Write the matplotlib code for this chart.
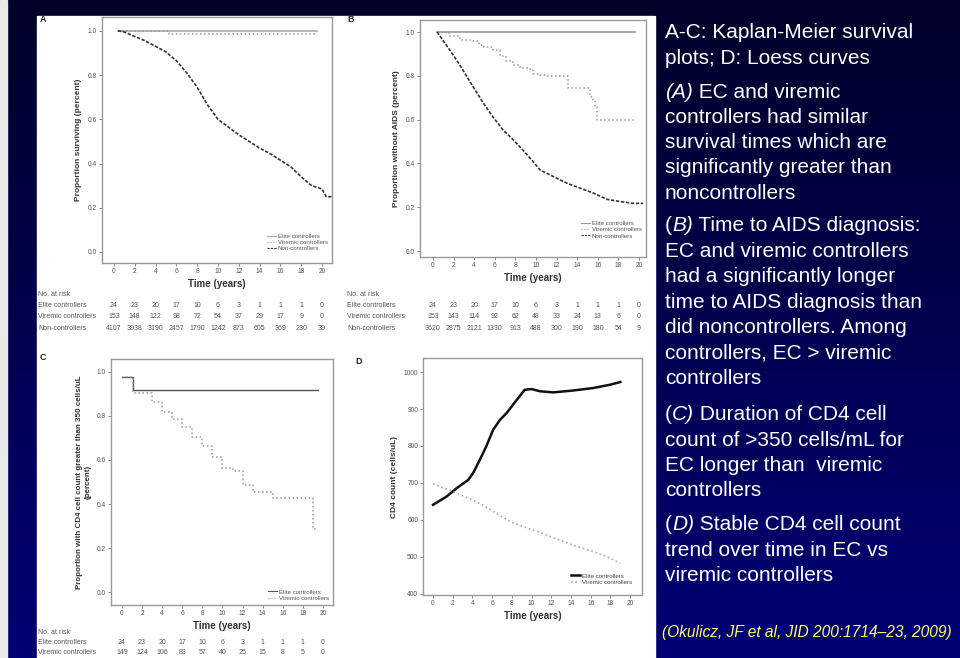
import numpy as np
import matplotlib
matplotlib.use("Agg")
import matplotlib.pyplot as plt
import matplotlib.transforms as mtrans
from matplotlib.lines import Line2D
from matplotlib.patches import Rectangle

plt.rcParams['font.family'] = ['Liberation Sans', 'DejaVu Sans']

W, H = 960, 658

# ---- panel A: survival ----
a_years = [0.4, 1, 2, 3, 4, 5, 6, 7, 8, 9, 10, 11, 12, 13, 14, 15, 16, 17, 18, 19, 20, 20.4, 21]
a_non = [1.0, 0.995, 0.975, 0.955, 0.93, 0.905, 0.865, 0.81, 0.745, 0.665, 0.60, 0.565,
         0.53, 0.50, 0.47, 0.445, 0.415, 0.385, 0.34, 0.30, 0.285, 0.25, 0.25]
a_elite_t = [0.4, 19.5]
a_elite = [1.0, 1.0]
a_vir_t = [0.4, 5.3, 19.5]
a_vir = [1.0, 0.985, 0.985]

# ---- panel B: time to AIDS ----
b_non_t = [0.4, 1.6, 2.6, 3.9, 4.9, 5.8, 6.8, 7.8, 8.75, 9.7, 10.4, 11.7, 13, 14.3,
           15.6, 16.9, 18.2, 19.4, 20.4]
b_non = [1.0, 0.92, 0.85, 0.75, 0.675, 0.614, 0.553, 0.508, 0.46, 0.41, 0.37, 0.34,
         0.31, 0.287, 0.264, 0.236, 0.226, 0.218, 0.218]
b_elite_t = [0.4, 19.6]
b_elite = [1.0, 1.0]
b_vir_t = [0.4, 1.6, 2.6, 3.9, 4.5, 5.0, 5.8, 6.5, 7.1, 7.8, 8.4, 9.4, 9.7, 10.4, 11.0,
           13.1, 15.2, 15.5, 15.7, 15.9, 19.6]
b_vir = [1.0, 0.98, 0.965, 0.957, 0.94, 0.93, 0.92, 0.89, 0.866, 0.85, 0.835, 0.83,
         0.81, 0.805, 0.80, 0.744, 0.705, 0.69, 0.66, 0.60, 0.60]

# ---- panel C: CD4 > 350 ----
c_elite_t = [0, 1.1, 19.5]
c_elite = [0.975, 0.92, 0.92]
c_vir_t = [0, 1.1, 3, 4, 5, 6, 7, 8, 9, 10, 11, 12, 13, 15, 19, 19.5]
c_vir = [0.975, 0.905, 0.865, 0.82, 0.785, 0.748, 0.705, 0.663, 0.612, 0.565, 0.55,
         0.486, 0.456, 0.426, 0.285, 0.285]

# ---- panel D: loess CD4 ----
d_elite_t = [0, 1.36, 2.4, 3.56, 4.07, 4.75, 5.4, 6.1, 6.8, 7.46, 8.5, 9.3, 10, 10.85,
             12.2, 14.2, 16.3, 18, 19]
d_elite = [641, 663, 686, 708, 727, 763, 799, 844, 871, 889, 925, 952, 954, 948,
           945, 950, 957, 966, 973]
d_vir_t = [0, 2, 4, 5, 6.1, 7.8, 9.15, 10.85, 12.5, 14.2, 16.3, 17.6, 19]
d_vir = [698, 677, 654, 641, 623, 596, 582, 566, 549, 532, 514, 501, 483]

risk_ticks = [0, 2, 4, 6, 8, 10, 12, 14, 16, 18, 20]
a_risk_elite = [24, 23, 20, 17, 10, 6, 3, 1, 1, 1, 0]
a_risk_vir = [153, 148, 122, 98, 72, 54, 37, 29, 17, 9, 0]
a_risk_non = [4107, 3938, 3190, 2457, 1790, 1242, 873, 605, 369, 230, 39]
b_risk_elite = [24, 23, 20, 17, 10, 6, 3, 1, 1, 1, 0]
b_risk_vir = [153, 143, 114, 92, 62, 48, 33, 24, 13, 6, 0]
b_risk_non = [3620, 2875, 2121, 1330, 913, 488, 300, 190, 180, 54, 9]
c_risk_elite = [24, 23, 20, 17, 10, 6, 3, 1, 1, 1, 0]
c_risk_vir = [149, 124, 106, 83, 57, 40, 25, 15, 8, 5, 0]

fig = plt.figure(figsize=(W / 100, H / 100), dpi=100)

# background gradient
bg = fig.add_axes([0, 0, 1, 1])
grad = np.linspace(0, 1, 256)
cols = np.zeros((256, 1, 3))
cols[:, 0, 2] = 0.16 + 0.30 * grad
bg.imshow(cols, aspect='auto', extent=[0, 1, 0, 1], origin='upper')
bg.set_xlim(0, 1)
bg.set_ylim(0, 1)
bg.axis('off')
bg.add_patch(Rectangle((0, 0), 7 / W, 1, color='#e8e8e8'))
bg.add_patch(Rectangle((37 / W, 0), (655 - 37) / W, 1 - 16 / H, color='white'))


def fx(px):
    return px / W


def fy(py):
    return 1 - py / H


def style(ax, xlabel, ylabel, ylabsize=6):
    for s in ax.spines.values():
        s.set_color('#999999')
        s.set_linewidth(1.0)
    ax.tick_params(direction='out', length=2, width=0.6, color='#777777',
                   labelsize=4.8, labelcolor='#555555', pad=1.5)
    ax.set_xticks(risk_ticks)
    ax.set_xlabel(xlabel, fontsize=7, fontweight='bold', color='#333333', labelpad=3)
    ax.set_ylabel(ylabel, fontsize=ylabsize, fontweight='bold', color='#333333', labelpad=4)


def risk_table(ax, x0, y0, rows, step=11.5):
    tr = mtrans.blended_transform_factory(ax.transData, fig.transFigure)
    fig.text(fx(x0), fy(y0), "No. at risk", fontsize=5, color='#555555', va='center')
    for i, (name, vals) in enumerate(rows):
        yy = y0 + step * (i + 1)
        fig.text(fx(x0), fy(yy), name, fontsize=5, color='#555555', va='center')
        for t, v in zip(risk_ticks, vals):
            ax.text(t, fy(yy), str(v), transform=tr, fontsize=5, color='#555555',
                    ha='center', va='center')


def km_legend(ax, handles, labels, loc, anchor):
    leg = ax.legend(handles, labels, loc=loc, bbox_to_anchor=anchor, frameon=False,
                    fontsize=4.4, handlelength=1.4, labelspacing=0.15, borderpad=0.2,
                    handletextpad=0.3)
    for t in leg.get_texts():
        t.set_color('#555555')


# Panel A
axA = fig.add_axes([fx(102), fy(263), (332 - 102) / W, (263 - 17) / H])
axA.plot(a_elite_t, a_elite, color='#aaaaaa', lw=1.2)
axA.plot(a_vir_t, a_vir, color='#999999', lw=1.1, ls=':', drawstyle='steps-post')
axA.plot(a_years, a_non, color='#333333', lw=1.2, ls=(0, (2, 1)))
axA.set_xlim(-1.15, 20.96)
axA.set_ylim(-0.05, 1.063)
axA.set_yticks([0, 0.2, 0.4, 0.6, 0.8, 1.0])
axA.set_yticklabels(['0.0', '0.2', '0.4', '0.6', '0.8', '1.0'])
style(axA, 'Time (years)', 'Proportion surviving (percent)')
km_legend(axA,
          [Line2D([], [], color='#aaaaaa', lw=0.8),
           Line2D([], [], color='#999999', lw=0.8, ls=':'),
           Line2D([], [], color='#333333', lw=0.8, ls=(0, (2, 1)))],
          ['Elite controllers', 'Viremic controllers', 'Non-controllers'],
          'lower right', (1.0, 0.03))
risk_table(axA, 38, 294, [('Elite controllers', a_risk_elite),
                          ('Viremic controllers', a_risk_vir),
                          ('Non-controllers', a_risk_non)])
fig.text(fx(40), fy(20), 'A', fontsize=6.5, fontweight='bold', color='#222222', va='center')

# Panel B
axB = fig.add_axes([fx(420), fy(257), (646 - 420) / W, (257 - 20) / H])
axB.plot(b_elite_t, b_elite, color='#999999', lw=1.2)
axB.plot(b_vir_t, b_vir, color='#999999', lw=1.1, ls=':', drawstyle='steps-post')
axB.plot(b_non_t, b_non, color='#333333', lw=1.2, ls=(0, (2, 1)))
axB.set_xlim(-1.26, 20.68)
axB.set_ylim(-0.027, 1.055)
axB.set_yticks([0, 0.2, 0.4, 0.6, 0.8, 1.0])
axB.set_yticklabels(['0.0', '0.2', '0.4', '0.6', '0.8', '1.0'])
style(axB, 'Time (years)', 'Proportion without AIDS (percent)')
km_legend(axB,
          [Line2D([], [], color='#999999', lw=0.8),
           Line2D([], [], color='#999999', lw=0.8, ls=':'),
           Line2D([], [], color='#333333', lw=0.8, ls=(0, (2, 1)))],
          ['Elite controllers', 'Viremic controllers', 'Non-controllers'],
          'lower right', (1.0, 0.06))
risk_table(axB, 347, 294, [('Elite controllers', b_risk_elite),
                           ('Viremic controllers', b_risk_vir),
                           ('Non-controllers', b_risk_non)])
fig.text(fx(347), fy(20), 'B', fontsize=6.5, fontweight='bold', color='#222222', va='center')

# Panel C
axC = fig.add_axes([fx(111), fy(605), (333 - 111) / W, (605 - 359) / H])
axC.plot(c_elite_t, c_elite, color='#555555', lw=1.0, drawstyle='steps-post')
axC.plot(c_vir_t, c_vir, color='#999999', lw=1.1, ls=':', drawstyle='steps-post')
axC.set_xlim(-1.09, 21.0)
axC.set_ylim(-0.059, 1.059)
axC.set_yticks([0, 0.2, 0.4, 0.6, 0.8, 1.0])
axC.set_yticklabels(['0.0', '0.2', '0.4', '0.6', '0.8', '1.0'])
style(axC, 'Time (years)',
      'Proportion with CD4 cell count greater than 350 cells/uL\n(percent)', ylabsize=5.8)
km_legend(axC,
          [Line2D([], [], color='#555555', lw=0.8),
           Line2D([], [], color='#999999', lw=0.8, ls=':')],
          ['Elite controllers', 'Viremic controllers'],
          'lower right', (1.0, 0.0))
risk_table(axC, 38, 632, [('Elite controllers', c_risk_elite),
                          ('Viremic controllers', c_risk_vir)], step=10.5)
fig.text(fx(40), fy(358), 'C', fontsize=6.5, fontweight='bold', color='#222222', va='center')

# Panel D
axD = fig.add_axes([fx(423), fy(595), (642 - 423) / W, (595 - 358) / H])
axD.plot(d_elite_t, d_elite, color='#111111', lw=1.8)
axD.plot(d_vir_t, d_vir, color='#aaaaaa', lw=1.2, ls=':')
axD.set_xlim(-1.02, 21.2)
axD.set_ylim(397, 1038)
axD.set_yticks([400, 500, 600, 700, 800, 900, 1000])
style(axD, 'Time (years)', 'CD4 count (cells/uL)')
legD = axD.legend(['Elite controllers', 'Viremic controllers'], loc='lower right',
                  bbox_to_anchor=(0.98, 0.02), frameon=False, fontsize=4.4,
                  handlelength=1.4, labelspacing=0.15, handletextpad=0.4)
for t in legD.get_texts():
    t.set_color('#444444')
fig.text(fx(355), fy(361), 'D', fontsize=6.5, fontweight='bold', color='#222222', va='center')

# right hand caption text, pieces flagged True are italic
fs = 15
caption = [
    (38, [("A-C: Kaplan-Meier survival", False)]),
    (63.5, [("plots; D: Loess curves", False)]),
    (97.5, [("(A)", True), (" EC and viremic", False)]),
    (123, [("controllers had similar", False)]),
    (148, [("survival times which are", False)]),
    (173.5, [("significantly greater than", False)]),
    (199, [("noncontrollers", False)]),
    (231.5, [("(", False), ("B)", True), (" Time to AIDS diagnosis:", False)]),
    (257, [("EC and viremic controllers", False)]),
    (282, [("had a significantly longer", False)]),
    (307.5, [("time to AIDS diagnosis than", False)]),
    (333, [("did noncontrollers. Among", False)]),
    (358.5, [("controllers, EC > viremic", False)]),
    (384, [("controllers", False)]),
    (420, [("(", False), ("C)", True), (" Duration of CD4 cell", False)]),
    (445.5, [("count of >350 cells/mL for", False)]),
    (471, [("EC longer than  viremic", False)]),
    (496.5, [("controllers", False)]),
    (530, [("(", False), ("D)", True), (" Stable CD4 cell count", False)]),
    (555.5, [("trend over time in EC vs", False)]),
    (581, [("viremic controllers", False)]),
]
renderer = fig.canvas.get_renderer()
for y, pieces in caption:
    x = 665
    for s, it in pieces:
        t = fig.text(fx(x), fy(y), s, fontsize=fs, color='white', va='baseline',
                     style='italic' if it else 'normal')
        x = t.get_window_extent(renderer).x1
fig.text(fx(662), fy(637), "(Okulicz, JF et al, JID 200:1714\u201323, 2009)",
         fontsize=11.2, color='#ffff66', style='italic', va='baseline')

fig.savefig("out.png", dpi=100)
